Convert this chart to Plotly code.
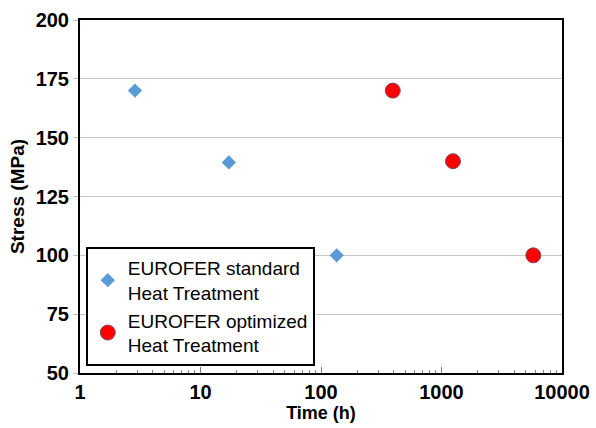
import plotly.graph_objects as go

std_time = [2.86, 17.2, 135]
std_stress = [170, 139.5, 100]
opt_time = [394, 1245, 5780]
opt_stress = [170, 140, 100]
y_ticks = [50, 75, 100, 125, 150, 175, 200]

fig = go.Figure()
fig.add_trace(go.Scatter(
    x=std_time, y=std_stress, mode="markers",
    name="EUROFER standard<br>Heat Treatment",
    marker=dict(symbol="diamond", size=11, color="#5B9BD5", line=dict(width=0)),
))
fig.add_trace(go.Scatter(
    x=opt_time, y=opt_stress, mode="markers",
    name="EUROFER optimized<br>Heat Treatment",
    marker=dict(symbol="circle", size=15, color="#FF0000", line=dict(width=1, color="#7a4a6a")),
))

fig.update_layout(
    width=596, height=428,
    margin=dict(l=80, r=34, t=20, b=55, autoexpand=False),
    paper_bgcolor="white", plot_bgcolor="white",
    font=dict(family="Arial, Liberation Sans", color="black"),
    showlegend=True,
    legend=dict(
        x=0.012, y=0.02, xanchor="left", yanchor="bottom",
        bordercolor="black", borderwidth=2, bgcolor="white",
        font=dict(size=19, family="Arial, Liberation Sans", color="black"),
        tracegroupgap=0, itemwidth=30,
    ),
    xaxis=dict(
        type="log", range=[0, 4], dtick=1, tickformat="d",
        tickfont=dict(size=20, weight="bold"),
        ticks="inside", ticklen=6, tickcolor="#808080",
        minor=dict(ticks="inside", ticklen=3, tickcolor="#808080", dtick="D1", showgrid=False),
        showgrid=False, showline=True, linecolor="black", linewidth=2, mirror=True,
        title=dict(text="<b>Time (h)</b>", font=dict(size=18), standoff=4),
        zeroline=False, automargin=False,
    ),
    yaxis=dict(
        range=[50, 200], tickvals=y_ticks,
        tickfont=dict(size=20, weight="bold"),
        ticks="outside", ticklen=5, tickcolor="#c0c0c0",
        showgrid=True, gridcolor="#c8c8c8", gridwidth=1,
        showline=True, linecolor="black", linewidth=2, mirror=True,
        title=dict(text="<b>Stress (MPa)</b>", font=dict(size=19), standoff=6),
        zeroline=False, automargin=False,
    ),
)

fig.write_html("out.html", config={"displayModeBar": False},
               post_script="document.body.style.margin='0';")
